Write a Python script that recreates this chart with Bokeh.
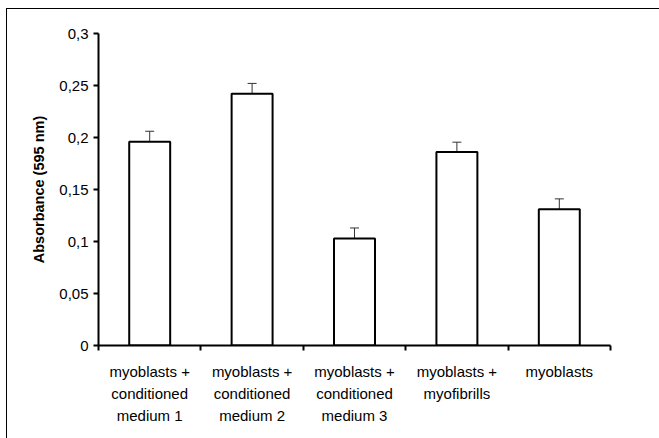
from bokeh.plotting import figure
from bokeh.models import ColumnDataSource, Range1d, FixedTicker, Whisker, TeeHead, Title
from bokeh.embed import file_html
from bokeh.resources import INLINE

categories = ["myoblasts +\nconditioned\nmedium 1",
              "myoblasts +\nconditioned\nmedium 2",
              "myoblasts +\nconditioned\nmedium 3",
              "myoblasts +\nmyofibrills",
              "myoblasts"]
values = [0.196, 0.242, 0.103, 0.186, 0.131]
errors = [0.010, 0.010, 0.010, 0.0095, 0.010]
y_ticks = [0, 0.05, 0.1, 0.15, 0.2, 0.25, 0.3]
y_tick_labels = ["0", "0,05", "0,1", "0,15", "0,2", "0,25", "0,3"]
y_title = "Absorbance (595 nm)"

xs = [i + 0.5 for i in range(len(categories))]
src = ColumnDataSource(dict(
    x=xs, top=values,
    upper=[v + e for v, e in zip(values, errors)],
    lower=[v - e for v, e in zip(values, errors)],
))

p = figure(width=654, height=432, output_backend="svg", toolbar_location=None,
           x_range=Range1d(0, len(categories)), y_range=Range1d(0, 0.3),
           min_border_left=91, min_border_right=51, min_border_top=24, min_border_bottom=96,
           styles={"border-left": "1px solid black", "border-top": "1px solid black",
                   "margin-left": "6px", "margin-top": "8px"})
p.outline_line_color = None
p.grid.visible = False
p.background_fill_color = "white"
p.border_fill_color = "white"

p.vbar(x="x", top="top", width=0.4, bottom=0, source=src,
       fill_color="white", line_color="black", line_width=2)

w = Whisker(base="x", upper="upper", lower="lower", source=src,
            line_color="#333333", line_width=1,
            upper_head=TeeHead(size=9, line_color="#333333", line_width=1),
            lower_head=TeeHead(size=9, line_color="#333333", line_width=1))
p.add_layout(w)

# x axis
xa = p.xaxis[0]
xa.ticker = FixedTicker(ticks=xs, minor_ticks=list(range(len(categories) + 1)))
xa.major_label_overrides = {x: c for x, c in zip(xs, categories)}
xa.major_tick_out = 0
xa.major_tick_in = 0
xa.minor_tick_out = 5
xa.minor_tick_in = 0
xa.minor_tick_line_color = "black"
xa.minor_tick_line_width = 2
xa.axis_line_color = "black"
xa.axis_line_width = 2
xa.major_label_text_font = "Liberation Sans"
xa.major_label_text_font_size = "15px"
xa.major_label_text_color = "black"
xa.major_label_text_line_height = 1.3
xa.major_label_standoff = 12

# y axis
ya = p.yaxis[0]
ya.ticker = FixedTicker(ticks=y_ticks, minor_ticks=[])
ya.major_label_overrides = {t: l for t, l in zip(y_ticks, y_tick_labels)}
ya.major_tick_out = 5
ya.major_tick_in = 0
ya.major_tick_line_color = "black"
ya.major_tick_line_width = 2
ya.axis_line_color = "black"
ya.axis_line_width = 2
ya.major_label_text_font = "Liberation Sans"
ya.major_label_text_font_size = "15px"
ya.major_label_text_color = "black"
ya.major_label_standoff = 5

t = Title(text=y_title, align="center", offset=24,
          text_font="Liberation Sans", text_font_style="bold",
          text_font_size="14.5px", text_color="black", standoff=20)
p.add_layout(t, "left")

open("out.html", "w").write(file_html(p, INLINE))
